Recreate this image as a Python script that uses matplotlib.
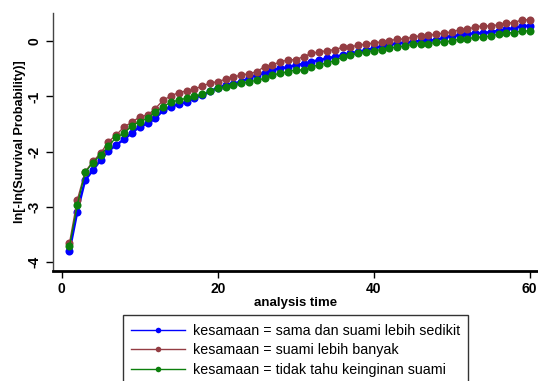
import numpy as np
import matplotlib
matplotlib.use("Agg")
import matplotlib.pyplot as plt
from matplotlib.lines import Line2D

plt.rcParams['font.family'] = ['Liberation Sans', 'DejaVu Sans']

# analysis time (months)
time = list(range(1, 61))

# ln[-ln(S(t))] for each group of "kesamaan"
sama_sedikit = [-3.80, -3.09, -2.52, -2.34, -2.15, -1.99, -1.88, -1.78, -1.66, -1.55,
                -1.49, -1.40, -1.25, -1.19, -1.14, -1.10, -1.02, -0.98, -0.91, -0.84,
                -0.80, -0.77, -0.73, -0.67, -0.61, -0.57, -0.52, -0.49, -0.47, -0.43,
                -0.41, -0.37, -0.34, -0.31, -0.28, -0.25, -0.22, -0.19, -0.16, -0.13,
                -0.09, -0.05, -0.04, -0.02, -0.01, 0.01, 0.02, 0.02, 0.07, 0.10,
                0.11, 0.13, 0.15, 0.15, 0.17, 0.19, 0.22, 0.24, 0.28, 0.28]
suami_banyak = [-3.66, -2.88, -2.37, -2.18, -2.03, -1.82, -1.70, -1.55, -1.47, -1.37,
                -1.34, -1.22, -1.07, -0.99, -0.93, -0.90, -0.87, -0.81, -0.76, -0.73,
                -0.69, -0.65, -0.61, -0.59, -0.55, -0.46, -0.43, -0.37, -0.34, -0.33,
                -0.28, -0.22, -0.19, -0.17, -0.15, -0.11, -0.10, -0.07, -0.05, -0.03,
                -0.01, 0.01, 0.04, 0.04, 0.08, 0.10, 0.11, 0.13, 0.15, 0.17,
                0.21, 0.22, 0.26, 0.28, 0.28, 0.30, 0.33, 0.34, 0.39, 0.39]
tidak_tahu = [-3.72, -2.97, -2.38, -2.20, -2.06, -1.90, -1.74, -1.67, -1.53, -1.46,
              -1.40, -1.28, -1.19, -1.10, -1.07, -1.03, -1.00, -0.96, -0.91, -0.85,
              -0.83, -0.79, -0.76, -0.73, -0.71, -0.67, -0.61, -0.58, -0.55, -0.52,
              -0.52, -0.46, -0.43, -0.39, -0.35, -0.29, -0.25, -0.22, -0.19, -0.17,
              -0.15, -0.12, -0.10, -0.09, -0.05, -0.04, -0.04, -0.02, -0.01, 0.01,
              0.04, 0.05, 0.07, 0.08, 0.10, 0.13, 0.15, 0.16, 0.19, 0.19]

labels = ["kesamaan = sama dan suami lebih sedikit",
          "kesamaan = suami lebih banyak",
          "kesamaan = tidak tahu keinginan suami"]
colors = ["#0000FF", "#943D43", "#0C7F0C"]
x_ticks = [0, 20, 40, 60]
y_ticks = [0, -1, -2, -3, -4]

fig = plt.figure(figsize=(5.38, 3.81), dpi=100)
ax = fig.add_axes([0.098, 0.2895, 0.902, 0.6772])

series = [sama_sedikit, suami_banyak, tidak_tahu]
widths = [1.8, 1.0, 1.0]
for ys, c, lw in zip(series, colors, widths):
    ax.plot(time, ys, color=c, lw=lw, marker='o', ms=5.8, markeredgewidth=0)

ax.set_xlim(-1.15, 61.06)
ax.set_ylim(-4.163, 0.52)
ax.set_xticks(x_ticks)
ax.set_yticks(y_ticks)
ax.set_xticklabels([str(v) for v in x_ticks], fontweight='bold', fontsize=10)
ax.set_yticklabels([str(v) for v in y_ticks], fontweight='bold', fontsize=10,
                   rotation=90, va='center')
ax.tick_params(axis='both', direction='out', length=5, width=1, color='black', pad=3)

for s in ['top', 'right']:
    ax.spines[s].set_visible(False)
ax.spines['bottom'].set_linewidth(2)
ax.spines['bottom'].set_color('black')
ax.spines['left'].set_linewidth(1)
ax.spines['left'].set_color('#444444')

ax.set_xlabel("analysis time", fontweight='bold', fontsize=9.5, labelpad=1)
ax.set_ylabel("ln[-ln(Survival Probability)]", fontweight='bold', fontsize=9.2, labelpad=1)

# legend keys: thin line with a small dot
handles = [Line2D([], [], color=c, lw=1, marker='o', ms=4, markeredgewidth=0)
           for c in colors]
x0, x1 = 122.7 / 538, 468 / 538
y_top = 1 - 315 / 381
leg = fig.legend(handles, labels, loc='upper left',
                 bbox_to_anchor=(x0, y_top - 0.3, x1 - x0, 0.3), mode='expand',
                 frameon=True, fancybox=False, edgecolor='black',
                 fontsize=10.3, handlelength=3.78, handletextpad=0.56,
                 borderpad=0.6, labelspacing=0.39, borderaxespad=0)
leg.get_frame().set_linewidth(1)

fig.savefig("out.png", dpi=100)
